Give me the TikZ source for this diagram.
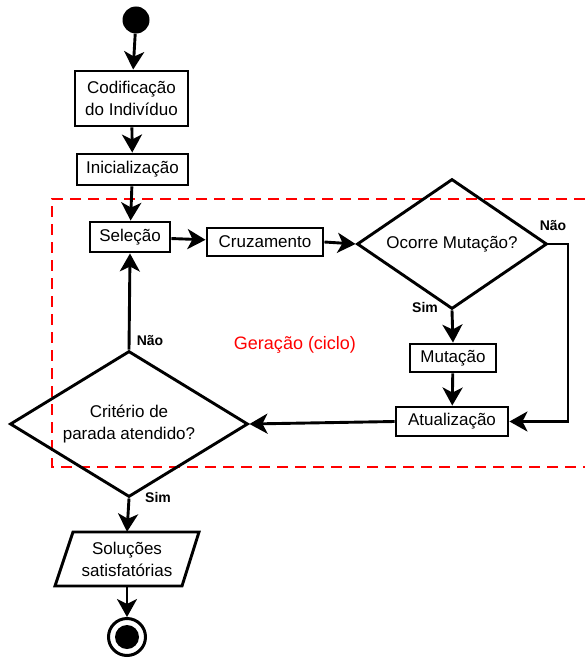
\documentclass[tikz,border=0pt]{standalone}
\usepackage{fontspec}
\setmainfont{Liberation Sans}
\usetikzlibrary{shapes.geometric,arrows.meta}
\begin{document}
\begin{tikzpicture}[x=1pt,y=-1pt,
  box/.style={draw,line width=2.9pt,inner sep=0pt,align=center,font=\fontsize{17}{22}\selectfont},
  dia/.style={draw,diamond,line width=2.9pt,inner sep=0pt,align=center,font=\fontsize{17}{22}\selectfont},
  arr/.style={line width=2.9pt,-{Stealth[length=18pt,width=20pt,inset=5pt]}},
  lbl/.style={font=\bfseries\fontsize{14}{16}\selectfont},
  frame/.style={draw=red,line width=2.8pt,dash pattern=on 11pt off 7pt}]
\useasboundingbox (0,0) rectangle (585,658);
% frame
\draw[frame] (585,199) -- (52,199) -- (52,467) -- (585,467);
% nodes
\node[circle,fill,minimum size=27pt,inner sep=0pt] (start) at (136,20) {};
\node[box,minimum width=113pt,minimum height=55pt] (cod) at (131.5,98.5) {Codificação\\do Indivíduo};
\node[box,minimum width=111pt,minimum height=31pt] (ini) at (132.5,169.5) {Inicialização};
\node[box,minimum width=80pt,minimum height=30pt] (sel) at (130,237) {Seleção};
\node[box,minimum width=116pt,minimum height=28pt] (cru) at (265,242) {Cruzamento};
\node[dia,shape aspect=1.46,minimum width=190pt,minimum height=130pt] (dmut) at (452,244) {Ocorre Mutação?};
\node[box,minimum width=86pt,minimum height=28pt] (mut) at (453,358) {Mutação};
\node[box,minimum width=112pt,minimum height=29pt] (atu) at (452,421.5) {Atualização};
\node[dia,shape aspect=1.63,minimum width=238pt,minimum height=146pt] (dcrit) at (129,424) {Critério de\\parada atendido?};
\node[inner sep=0pt,minimum width=127pt,minimum height=54pt,align=center,font=\fontsize{17}{22}\selectfont] (sol) at (127,559) {Soluções\\satisfatórias};
\draw[line width=2.9pt,line join=miter] (73,532) -- (199,532) -- (182,586) -- (55,586) -- cycle;
\node[circle,draw,line width=3pt,minimum size=37pt,inner sep=0pt] (end) at (127,637) {};
\fill (end.center) circle (12pt);
\node[text=red,font=\fontsize{18}{20}\selectfont] (ger) at (295,345) {Geração (ciclo)};
\coordinate (c1) at (568,244);
% labels
\node[lbl] (l1) at (553,226) {Não};
\node[lbl] (l2) at (425,307) {Sim};
\node[lbl] (l3) at (150,341) {Não};
\node[lbl] (l4) at (158,497) {Sim};
% connectors
\draw[arr] (start) -- (cod);
\draw[arr] (cod) -- (ini);
\draw[arr] (ini) -- (sel);
\draw[arr] (sel) -- (cru);
\draw[arr] (cru.east) -- (dmut.west);
\draw[arr] (dmut.south) -- (mut.north);
\draw[arr] (mut) -- (atu);
\draw[arr] (dmut.east) -- (c1) |- (atu.east);
\draw[arr] (atu.west) -- (dcrit.east);
\draw[arr] (dcrit.north) -- (sel.south);
\draw[arr] (dcrit.south) -- (sol.north);
\draw[arr] (sol.south) -- (end);
\end{tikzpicture}
\end{document}
